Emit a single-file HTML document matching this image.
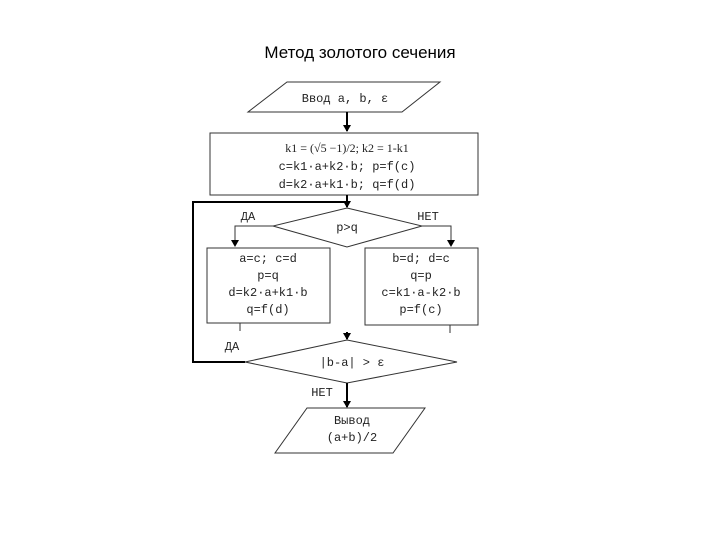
<!DOCTYPE html>
<html><head><meta charset="utf-8"><style>
body{margin:0;background:#fff}
svg text{font-family:"Liberation Mono",monospace;font-size:12px;fill:#222}
</style></head><body>
<svg width="720" height="540" xmlns="http://www.w3.org/2000/svg">
<defs><marker id="a" markerWidth="8" markerHeight="8" refX="6" refY="4" orient="auto" markerUnits="userSpaceOnUse"><path d="M0,0 L7,4 L0,8 Z" fill="#000"/></marker></defs>
<text x="360" y="58" text-anchor="middle" style="font-family:'Liberation Sans',sans-serif;font-size:17px;fill:#000">Метод золотого сечения</text>
<g fill="none" stroke="#333" stroke-width="1">
<polygon points="287,82 440,82 402,112 248,112"/>
<rect x="210" y="133" width="268" height="62"/>
<polygon points="347,208 422,226 347,247 273,226"/>
<rect x="207" y="248" width="123" height="75"/>
<rect x="365" y="248" width="113" height="77"/>
<polygon points="347,340 457,362 347,383 245,362"/>
<polygon points="307,408 425,408 393,453 275,453"/>
<polyline points="273,226 235,226 235,246" marker-end="url(#a)"/>
<polyline points="422,226 451,226 451,246" marker-end="url(#a)"/>
<line x1="240" y1="323" x2="240" y2="331"/>
<line x1="450" y1="325" x2="450" y2="333"/>
</g>
<g stroke="#000" stroke-width="2" fill="none">
<line x1="347" y1="112" x2="347" y2="131" marker-end="url(#a)"/>
<line x1="347" y1="195" x2="347" y2="207" marker-end="url(#a)"/>
<polyline points="245,362 193,362 193,202 345,202"/>
<line x1="347" y1="332" x2="347" y2="339" marker-end="url(#a)"/>
<line x1="347" y1="383" x2="347" y2="407" marker-end="url(#a)"/>
</g>
<text x="347" y="152" text-anchor="middle" style="font-family:'Liberation Serif',serif">k1 = (√5 −1)/2;  k2 = 1-k1</text>
<text x="347" y="170" text-anchor="middle">c=k1·a+k2·b;  p=f(c)</text>
<text x="347" y="188" text-anchor="middle">d=k2·a+k1·b;  q=f(d)</text>
<text x="345" y="102" text-anchor="middle">Ввод  a, b, ε</text>
<text x="347" y="231" text-anchor="middle">p&gt;q</text>
<text x="248" y="220" text-anchor="middle">ДА</text>
<text x="428" y="220" text-anchor="middle">НЕТ</text>
<text x="268" y="262" text-anchor="middle">a=c; c=d</text>
<text x="268" y="279" text-anchor="middle">p=q</text>
<text x="268" y="296" text-anchor="middle">d=k2·a+k1·b</text>
<text x="268" y="313" text-anchor="middle">q=f(d)</text>
<text x="421" y="262" text-anchor="middle">b=d; d=c</text>
<text x="421" y="279" text-anchor="middle">q=p</text>
<text x="421" y="296" text-anchor="middle">c=k1·a-k2·b</text>
<text x="421" y="313" text-anchor="middle">p=f(c)</text>
<text x="232" y="350" text-anchor="middle">ДА</text>
<text x="352" y="366" text-anchor="middle">|b-a| &gt; ε</text>
<text x="322" y="396" text-anchor="middle">НЕТ</text>
<text x="352" y="424" text-anchor="middle">Вывод</text>
<text x="352" y="441" text-anchor="middle">(a+b)/2</text>
</svg>
</body></html>
